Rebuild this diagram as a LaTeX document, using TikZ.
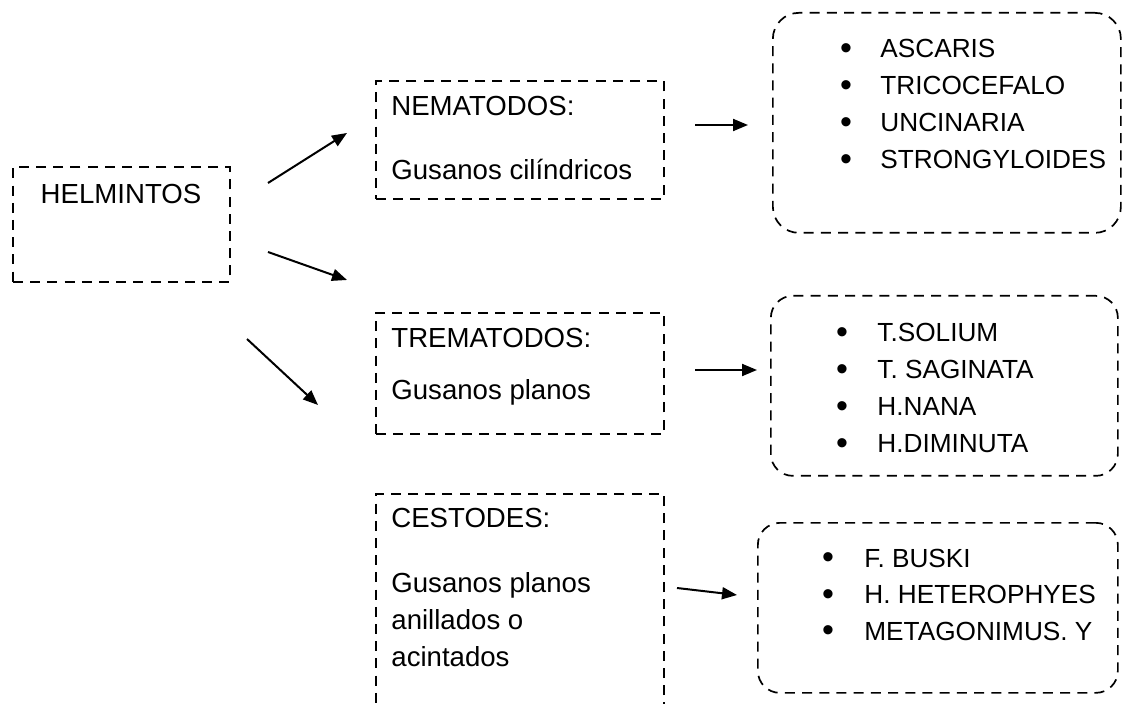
\documentclass[tikz,border=0pt]{standalone}
\usepackage{fontspec}
\setmainfont{Liberation Sans}
\usepackage{tikz}
\usetikzlibrary{arrows.meta,positioning}

\begin{document}
\begin{tikzpicture}[x=0.5pt,y=-0.5pt,
  font=\fontsize{13.8}{16}\selectfont,
  sqbox/.style={draw,line width=1pt,dash pattern=on 5pt off 3.6pt,anchor=north west,inner sep=0pt},
  rdbox/.style={sqbox,line width=0.85pt,rounded corners=11pt},
  txt/.style={inner sep=0pt,anchor=base west},
  item/.style={txt,font=\fontsize{13.1}{16}\selectfont},
  dot/.style={inner sep=0pt,anchor=center,font=\fontsize{17}{16}\selectfont},
  arr/.style={-{Triangle[length=7.5pt,width=6pt]},line width=1pt}]
  \path[use as bounding box,clip] (0,0) rectangle (1122,704);
  % left box
  \node[sqbox,minimum width=108.5pt,minimum height=57.5pt] (helmbox) at (12,166) {};
  \node[inner sep=0pt,anchor=base] (helm) at (121,204) {HELMINTOS};
  % middle boxes
  \node[sqbox,minimum width=144pt,minimum height=59pt] (nemabox) at (375,80) {};
  \node[txt] (nema) at (391,116) {NEMATODOS:};
  \node[txt] (nemad) at (391,180) {Gusanos cilíndricos};
  \node[sqbox,minimum width=144pt,minimum height=60.5pt] (tremabox) at (375,312) {};
  \node[txt] (trema) at (391,348) {TREMATODOS:};
  \node[txt] (tremad) at (391,400) {Gusanos planos};
  \node[sqbox,minimum width=144pt,minimum height=120pt] (cestobox) at (375,493) {};
  \node[txt] (cesto) at (391,527) {CESTODES:};
  \node[txt] (cestoa) at (391,592) {Gusanos planos};
  \node[txt] (cestob) at (391,629) {anillados o};
  \node[txt] (cestoc) at (391,666) {acintados};
  % right boxes
  \node[rdbox,rounded corners=13pt,minimum width=174pt,minimum height=110pt] (list1box) at (772,12) {};
  \foreach \i/\t in {0/ASCARIS,1/TRICOCEFALO,2/UNCINARIA,3/STRONGYLOIDES}{
    \node[dot] (b1-\i) at (846,52+36.7*\i) {•};
    \node[item] (l1-\i) at (880,58+36.7*\i) {\t};
  }
  \node[rdbox,minimum width=173.5pt,minimum height=90pt] (list2box) at (770,295) {};
  \foreach \i/\t in {0/T.SOLIUM,1/T. SAGINATA,2/H.NANA,3/H.DIMINUTA}{
    \node[dot] (b2-\i) at (842,336+37*\i) {•};
    \node[item] (l2-\i) at (877,342+37*\i) {\t};
  }
  \node[rdbox,minimum width=180pt,minimum height=85pt] (list3box) at (757,522) {};
  \foreach \i/\t in {0/F. BUSKI,1/H. HETEROPHYES,2/METAGONIMUS. Y}{
    \node[dot] (b3-\i) at (828,561+36.5*\i) {•};
    \node[item] (l3-\i) at (864,567+36.5*\i) {\t};
  }
  % arrows
  \coordinate (a1s) at (268,183); \coordinate (a1e) at (347,133);
  \coordinate (a2s) at (268,252); \coordinate (a2e) at (347,280);
  \coordinate (a3s) at (247,339); \coordinate (a3e) at (318,405);
  \coordinate (a4s) at (695,125); \coordinate (a4e) at (748,125);
  \coordinate (a5s) at (695,370); \coordinate (a5e) at (757,370);
  \coordinate (a6s) at (677,588); \coordinate (a6e) at (737,595);
  \draw[arr] (a1s) -- (a1e);
  \draw[arr] (a2s) -- (a2e);
  \draw[arr] (a3s) -- (a3e);
  \draw[arr] (a4s) -- (a4e);
  \draw[arr] (a5s) -- (a5e);
  \draw[arr] (a6s) -- (a6e);
\end{tikzpicture}
\end{document}
